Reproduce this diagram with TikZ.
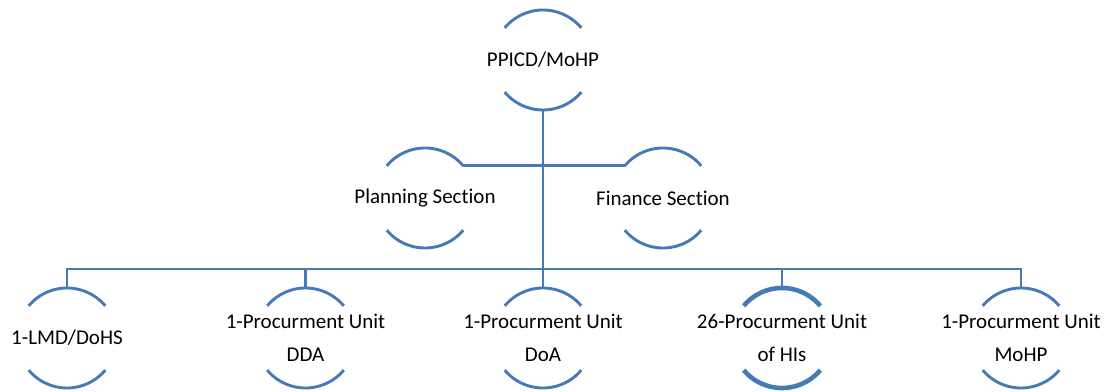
\documentclass[tikz,border=0pt]{standalone}
\usepackage{fontspec}
\setmainfont{Carlito}[Ligatures=NoCommon]
\definecolor{linkblue}{RGB}{70,122,182}
\begin{document}
\begin{tikzpicture}[x=1pt,y=1pt,
  lbl/.style={inner sep=0pt,align=center,font=\fontsize{21}{33.5}\selectfont,text=black},
  arcline/.style={draw=linkblue,line width=2.9pt},
  thickarc/.style={draw=linkblue,line width=4.6pt},
  link/.style={draw=linkblue,line width=2.9pt}]
\useasboundingbox (0,0) rectangle (1110,391);
% nodes
\node[lbl] (top)  at (543,331) {PPICD/MoHP};
\node[lbl] (plan) at (425,193) {Planning Section};
\node[lbl] (fin)  at (663,193) {Finance Section};
\node[lbl] (lmd)  at (67,53)   {1-LMD/DoHS};
\node[lbl] (dda)  at (305.5,53){1-Procurment Unit\\DDA};
\node[lbl] (doa)  at (543,53)  {1-Procurment Unit\\DoA};
\node[lbl] (his)  at (782,53)  {26-Procurment Unit\\of HIs};
\node[lbl] (mohp) at (1021,53) {1-Procurment Unit\\MoHP};
% arcs
\foreach \n in {top,plan,fin,lmd,dda,doa,mohp}{
  \draw[arcline] ([shift={(140:50)}]\n.center) arc[start angle=140,end angle=40,radius=50];
  \draw[arcline] ([shift={(220:50)}]\n.center) arc[start angle=220,end angle=320,radius=50];
}
\draw[thickarc] ([shift={(140:50)}]his.center) arc[start angle=140,end angle=40,radius=50];
\draw[thickarc] ([shift={(220:50)}]his.center) arc[start angle=220,end angle=320,radius=50];
% connectors
\coordinate (bus) at (543,122);
\draw[link] ([yshift=-50pt]top.center) -- ([yshift=50pt]doa.center);
\draw[link] ([shift={(40:50)}]plan.center) -- ([shift={(140:50)}]fin.center);
\draw[link] ([yshift=50pt]lmd.center) |- (bus);
\draw[link] ([yshift=50pt]dda.center) |- (bus);
\draw[link] ([yshift=50pt]his.center) |- (bus);
\draw[link] ([yshift=50pt]mohp.center) |- (bus);
\end{tikzpicture}
\end{document}
